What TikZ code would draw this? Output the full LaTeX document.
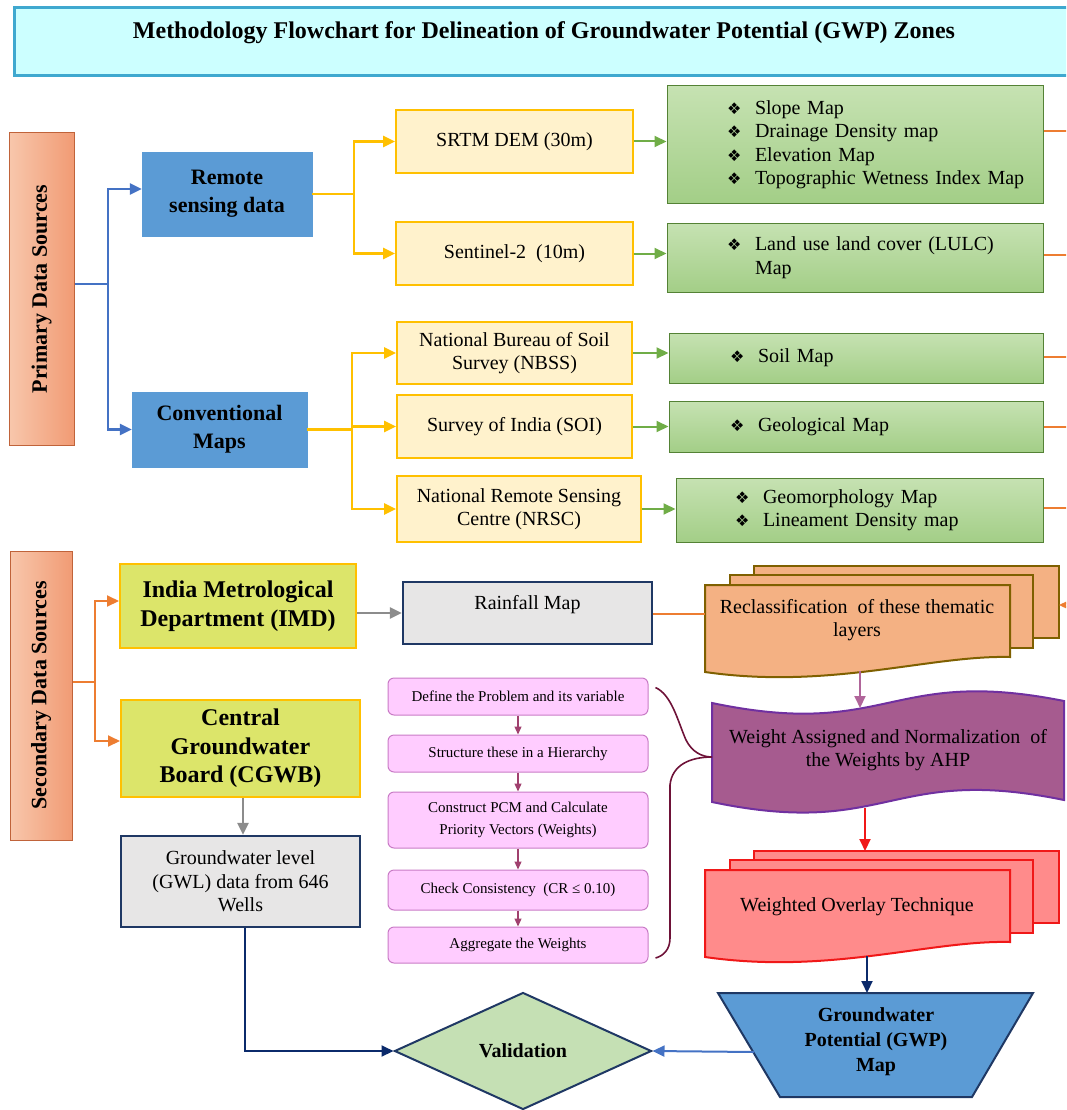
\documentclass[tikz,border=0pt]{standalone}
\usepackage{fontspec}
\setmainfont{Liberation Serif}
\newfontfamily\djv{DejaVu Sans}
\usetikzlibrary{arrows.meta,shapes.geometric,calc}
\definecolor{cTitleF}{HTML}{CCFFFF}
\definecolor{cTitleD}{HTML}{3FA8CF}
\definecolor{cSalL}{HTML}{F8C7AC}
\definecolor{cSalR}{HTML}{F19B74}
\definecolor{cSalD}{HTML}{C0633A}
\definecolor{cBlue}{HTML}{5B9BD5}
\definecolor{cBlueLn}{HTML}{4472C4}
\definecolor{cYelF}{HTML}{FFF2CC}
\definecolor{cGold}{HTML}{FFC000}
\definecolor{cGrnT}{HTML}{C6E2B2}
\definecolor{cGrnB}{HTML}{A3CE87}
\definecolor{cGrnD}{HTML}{548235}
\definecolor{cGrnLn}{HTML}{70AD47}
\definecolor{cOrange}{HTML}{ED7D31}
\definecolor{cLime}{HTML}{DCE56A}
\definecolor{cGrayF}{HTML}{E7E6E6}
\definecolor{cNavy}{HTML}{1F3864}
\definecolor{cGrayLn}{HTML}{8C8C8C}
\definecolor{cPinkF}{HTML}{FFCCFF}
\definecolor{cPinkD}{HTML}{C97BC6}
\definecolor{cPinkLn}{HTML}{A0406E}
\definecolor{cMaroon}{HTML}{6E1238}
\definecolor{cPeach}{HTML}{F4B183}
\definecolor{cOlive}{HTML}{7F6000}
\definecolor{cPurpF}{HTML}{A65B8F}
\definecolor{cPurpD}{HTML}{7030A0}
\definecolor{cMauve}{HTML}{B0659A}
\definecolor{cRedF}{HTML}{FF8B8B}
\definecolor{cRed}{HTML}{F01818}
\definecolor{cDiaF}{HTML}{C5E0B4}
\definecolor{cNavyLn}{HTML}{0B2A6B}
\newcommand\fnorm{\fontsize{20}{23.5}\selectfont}
\newcommand\fbld{\fontsize{22}{28}\selectfont\bfseries}
\newcommand\fbig{\fontsize{24}{28.5}\selectfont\bfseries}
\newcommand\fsml{\fontsize{15}{22}\selectfont}
\newcommand\fvb{\fontsize{20}{25}\selectfont\bfseries}
\newcommand\bul{\makebox[28pt][l]{\djv\fontsize{16}{16}\selectfont ❖}}
\newcommand\multidoc[3]{%
 \begin{scope}[shift={(0,#3)}]
 \draw[fill=#1, draw=#2, line width=2pt] (754,566) rectangle (1059,638);
 \draw[fill=#1, draw=#2, line width=2pt] (730,575) rectangle (1033,648);
 \draw[fill=#1, draw=#2, line width=2pt] (705,585) -- (1010,585) -- (1010,657) .. controls (930,655) and (830,690) .. (705,672) -- cycle;
 \end{scope}}
\tikzset{
 tip/.style={-{Triangle[length=12pt,width=11pt]}},
 srcbox/.style={draw=cSalD, line width=1pt, left color=cSalL, right color=cSalR, inner sep=0pt},
 bluebox/.style={draw=cBlue, fill=cBlue, align=center, font=\fbld},
 yelbox/.style={draw=cGold, fill=cYelF, line width=2pt, align=center, font=\fnorm},
 grnbox/.style={draw=cGrnD, line width=1pt, top color=cGrnT, bottom color=cGrnB, align=left, font=\fnorm, inner xsep=0pt},
 limebox/.style={draw=cGold, fill=cLime, line width=2pt, align=center, font=\fbig},
 graybox/.style={draw=cNavy, fill=cGrayF, line width=2.2pt, align=center, font=\fnorm},
 pinkbox/.style={draw=cPinkD, fill=cPinkF, line width=1pt, rounded corners=6pt, align=center, font=\fsml, inner sep=0pt},
 blueln/.style={draw=cBlueLn, line width=2.5pt},
 ylwln/.style={draw=cGold, line width=2.5pt},
 grnln/.style={draw=cGrnLn, line width=2pt},
 orln/.style={draw=cOrange, line width=2pt},
 grayln/.style={draw=cGrayLn, line width=2.5pt},
 navyln/.style={draw=cNavyLn, line width=2pt},
 pkln/.style={draw=cPinkLn, line width=1.2pt, -{Triangle[length=8pt,width=7pt]}},
}
\begin{document}
\begin{tikzpicture}[x=1pt,y=-1pt]
\useasboundingbox (0,0) rectangle (1066,1110);
\clip (0,0) rectangle (1066,1110);
% title
\node[draw=cTitleD, fill=cTitleF, line width=3pt, minimum width=1061pt, minimum height=68pt] (titlebox) at (544.5,42) {};
\node[font=\fontsize{24}{28}\selectfont\bfseries] (title) at (544,33) {Methodology Flowchart for Delineation of Groundwater Potential (GWP) Zones};
% source boxes
\node[srcbox, minimum width=65pt, minimum height=312pt] (prim) at (41.5,289) {};
\node[rotate=90, font=\fbld] (primtxt) at (prim.center) {Primary Data Sources};
\node[srcbox, minimum width=62pt, minimum height=289pt] (sec) at (41,695.5) {};
\node[rotate=90, font=\fbld] (sectxt) at (sec.center) {Secondary Data Sources};
% blue boxes
\node[bluebox, minimum width=170pt, minimum height=84pt] (remote) at (227,194) {Remote\\sensing data};
\node[bluebox, minimum width=175pt, minimum height=75pt] (conv) at (219.5,429.5) {Conventional\\Maps};
% yellow boxes
\node[yelbox, minimum width=237pt, minimum height=63pt] (srtm) at (514.5,141.5) {SRTM DEM (30m)};
\node[yelbox, minimum width=237pt, minimum height=63pt] (sent) at (514.5,253.5) {Sentinel-2~ (10m)};
\node[yelbox, minimum width=235pt, minimum height=62pt] (nbss) at (514.5,353) {National Bureau of Soil\\Survey (NBSS)};
\node[yelbox, minimum width=235pt, minimum height=63pt] (soi) at (514.5,426.5) {Survey of India (SOI)};
\node[yelbox, minimum width=244pt, minimum height=66pt] (nrsc) at (519,509) {National Remote Sensing\\Centre (NRSC)};
% green boxes
\node[grnbox, text width=376pt, minimum height=117pt] (slope) at (855,144.5) {\hspace*{60pt}\bul Slope Map\\\hspace*{60pt}\bul Drainage Density map\\\hspace*{60pt}\bul Elevation Map\\\hspace*{60pt}\bul Topographic Wetness Index Map};
\node[grnbox, text width=376pt, minimum height=69pt] (lulc) at (855,257.5) {\hspace*{60pt}\bul Land use land cover (LULC)\\\hspace*{88pt}Map};
\node[grnbox, text width=374pt, minimum height=50pt] (soil) at (856,358) {\hspace*{61pt}\bul Soil Map};
\node[grnbox, text width=374pt, minimum height=51pt] (geo) at (856,426.5) {\hspace*{61pt}\bul Geological Map};
\node[grnbox, text width=367pt, minimum height=64pt] (geom) at (859.5,510) {\hspace*{59pt}\bul Geomorphology Map\\\hspace*{59pt}\bul Lineament Density map};
% blue connectors
\coordinate (pj) at (108,284);
\draw[blueln] (prim.east |- pj) -- (pj);
\draw[blueln,tip] (pj) |- ([yshift=5pt]remote.west);
\draw[blueln,tip] (pj) |- (conv.west);
% yellow connectors
\draw[ylwln] (remote.east) -- ++(42,0) coordinate (rj);
\draw[ylwln,tip] (rj) |- (srtm.west);
\draw[ylwln,tip] (rj) |- (sent.west);
\draw[ylwln] (conv.east) -- ++(45,0) coordinate (cj);
\draw[ylwln,tip] (cj) |- (nbss.west);
\draw[ylwln,tip] (cj) |- (soi.west);
\draw[ylwln,tip] (cj) |- (nrsc.west);
% green connectors
\draw[grnln,tip] (srtm.east) -- (srtm.east -| slope.west);
\draw[grnln,tip] (sent.east) -- (sent.east -| lulc.west);
\draw[grnln,tip] (nbss.east) -- (nbss.east -| soil.west);
\draw[grnln,tip] (soi.east) -- (soi.east -| geo.west);
\draw[grnln,tip] (nrsc.east) -- (nrsc.east -| geom.west);
% orange exits to right
\coordinate (e1) at (1072,131);
\coordinate (e2) at (1072,255);
\coordinate (e3) at (1072,357);
\coordinate (e4) at (1072,427);
\coordinate (e5) at (1072,508);
\draw[orln] (slope.east |- e1) -- (e1);
\draw[orln] (lulc.east |- e2) -- (e2);
\draw[orln] (soil.east |- e3) -- (e3);
\draw[orln] (geo.east |- e4) -- (e4);
\draw[orln] (geom.east |- e5) -- (e5);
% secondary sources
\node[limebox, minimum width=236pt, minimum height=84pt] (imd) at (238,606) {India Metrological\\Department (IMD)};
\node[limebox, minimum width=239pt, minimum height=97pt] (cgwb) at (240.5,748.5) {Central\\Groundwater\\Board (CGWB)};
\node[graybox, minimum width=239pt, minimum height=91pt] (gwl) at (240.5,881.5) {Groundwater level\\(GWL) data from 646\\Wells};
\node[graybox, minimum width=249pt, minimum height=62pt] (rain) at (527.5,613) {\raisebox{8pt}[\height][\depth]{Rainfall Map}};
\coordinate (sj) at (95,682);
\draw[orln] (sec.east |- sj) -- (sj);
\draw[orln,tip] (sj) |- ([yshift=5pt]imd.west);
\draw[orln,tip] (sj) |- ([yshift=7.5pt]cgwb.west);
\draw[grayln,tip] (imd.east |- rain.west) -- (rain.west);
\draw[grayln,tip] ([xshift=2.5pt]cgwb.south) -- ([xshift=2.5pt]gwl.north);
% AHP steps
\node[pinkbox, minimum width=260pt, minimum height=37pt] (def) at (518,696.5) {Define the Problem and its variable};
\node[pinkbox, minimum width=260pt, minimum height=37pt] (str) at (518,753.5) {Structure these in a Hierarchy};
\node[pinkbox, minimum width=260pt, minimum height=56pt] (pcm) at (518,820) {Construct PCM and Calculate\\Priority Vectors (Weights)};
\node[pinkbox, minimum width=260pt, minimum height=40pt] (chk) at (518,890) {Check Consistency~ (CR ≤ 0.10)};
\node[pinkbox, minimum width=260pt, minimum height=36pt] (agg) at (518,945) {Aggregate the Weights};
\draw[pkln] (def.south) -- (str.north);
\draw[pkln] (str.south) -- (pcm.north);
\draw[pkln] (pcm.south) -- (chk.north);
\draw[pkln] (chk.south) -- (agg.north);
% reclassification stack
\multidoc{cPeach}{cOlive}{0}
\node[font=\fnorm, align=center] (reclass) at (857,620) {Reclassification~ of these thematic\\layers};
\coordinate (rcL) at (705,614);
\coordinate (rcR) at (1059,605);
\coordinate (inR) at (1075,605);
\coordinate (rcB) at (860,671);
\draw[orln] (rain.east |- rcL) -- (rcL);
\draw[orln,tip] (inR) -- (rcR);
% weight tape
\draw[fill=cPurpF, draw=cPurpD, line width=2pt] (712,703) .. controls (889,740) and (889,666) .. (1064,701) -- (1064,800) .. controls (889,764) and (889,839) .. (712,802) -- cycle;
\node[font=\fnorm, align=center] (weight) at (888,750) {Weight Assigned and Normalization~ of\\the Weights by AHP};
\coordinate (wtT) at (860,708);
\coordinate (wtL) at (712,757);
\coordinate (wtB) at (865,808);
\draw[draw=cMauve, line width=2pt, tip] (rcB) -- (wtT);
% brace
\coordinate (brT) at ($(def.east)+(7,-9)$);
\coordinate (brB) at ($(agg.east)+(7,13)$);
\draw[cMaroon, line width=1.6pt] (brT) .. controls (672,695) and (678,722) .. (686,740) .. controls (692,752) and (702,757) .. (wtL);
\draw[cMaroon, line width=1.6pt] (wtL) .. controls (690,757) and (672,765) .. (670,785) -- (670,938) .. controls (670,950) and (663,956) .. (brB);
% weighted overlay stack
\multidoc{cRedF}{cRed}{285}
\node[font=\fnorm] (overlay) at (857,907) {Weighted Overlay Technique};
\coordinate (ovT) at (865,851);
\coordinate (ovB) at (867,956);
\draw[draw=cRed, line width=2pt, tip] (wtB) -- (ovT);
% GWP trapezoid
\draw[fill=cBlue, draw=cNavy, line width=2pt] (718,993) -- (1033,993) -- (972,1097) -- (780,1097) -- cycle;
\node[font=\fvb, align=center] (gwp) at (876,1042) {Groundwater\\Potential (GWP)\\Map};
\coordinate (gwpT) at (867,993);
\coordinate (gwpL) at (754,1052);
\draw[navyln, tip] (ovB) -- (gwpT);
% validation
\node[diamond, draw=cNavy, fill=cDiaF, line width=2pt, minimum width=257pt, minimum height=117pt, inner sep=0pt, font=\fvb] (val) at (523,1051) {Validation};
\draw[blueln, line width=2pt, tip] (gwpL) -- (val.east);
\draw[navyln, tip] ([xshift=4.5pt]gwl.south) |- (val.west);
\end{tikzpicture}
\end{document}
